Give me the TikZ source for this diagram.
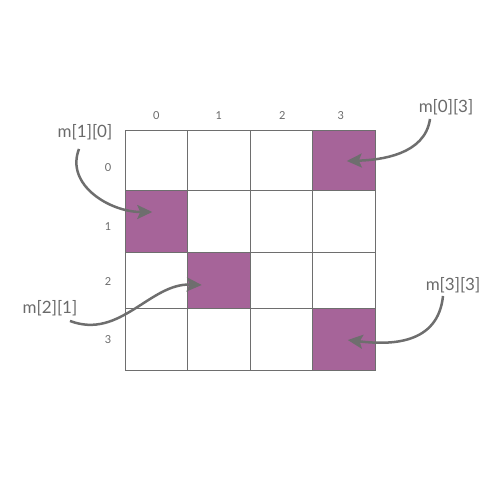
\documentclass[tikz,border=0pt]{standalone}
\usepackage{fontspec}
\setmainfont{Lato}
\usetikzlibrary{arrows.meta, positioning, calc, backgrounds}
\definecolor{cellpurple}{HTML}{A66499}
\definecolor{linegray}{HTML}{6E6E6E}
\definecolor{textgray}{HTML}{6A6A6A}

\begin{document}
\begin{tikzpicture}[x=1pt, y=-1pt,
  cell/.style={draw=linegray, line width=1pt, minimum width=62.5pt, inner sep=0pt, outer sep=0pt},
  index/.style={text=textgray, inner sep=0pt, font=\fontsize{11}{13}\selectfont},
  tag/.style={text=textgray, inner sep=0pt, font=\fontsize{17}{20}\selectfont},
  pointer/.style={draw=linegray, line width=2.5pt, -{Stealth[length=15pt, width=14pt, inset=3pt]}}
]
\useasboundingbox (0,0) rectangle (500,500);

% the 4x4 grid
\foreach \r/\yc/\h in {0/160/60, 1/221/62, 2/280/56, 3/339/62}
  \foreach \c in {0,...,3}
    \node[cell, minimum height=\h pt] (c-\r-\c) at ({156.25+62.5*\c}, \yc) {};

\begin{scope}[on background layer]
  \foreach \r/\c in {0/3, 1/0, 2/1, 3/3}
    \fill[cellpurple] (c-\r-\c.north west) rectangle (c-\r-\c.south east);
\end{scope}

% indices
\foreach \c/\dx in {0/0, 1/0, 2/1, 3/-3}
  \node[index, above=10pt of c-0-\c, xshift=\dx pt] (col-\c) {\c};
\foreach \r/\y in {0/168, 1/227, 2/282, 3/340}
  \node[index] (row-\r) at (108,\y) {\r};

% labels and pointers
\node[tag] (t-1-0) at (85,132) {m[1][0]};
\node[tag] (t-0-3) at (446,107) {m[0][3]};
\node[tag] (t-2-1) at (50,308) {m[2][1]};
\node[tag] (t-3-3) at (453,285) {m[3][3]};

\draw[pointer] ([shift={(-6,9)}]t-1-0.south) .. controls (65,185) and (110,212) .. ([shift={(-4,-9)}]c-1-0.center);
\draw[pointer] ([shift={(-16,4)}]t-0-3.south) .. controls (425,155) and (380,160) .. ([shift={(3,1)}]c-0-3.center);
\draw[pointer] ([shift={(20,5)}]t-2-1.south) .. controls (120,340) and (150,283) .. ([shift={(-17,5)}]c-2-1.center);
\draw[pointer] ([shift={(-10,3)}]t-3-3.south) .. controls (438,345) and (390,345) .. ([shift={(4,1)}]c-3-3.center);
\end{tikzpicture}
\end{document}
